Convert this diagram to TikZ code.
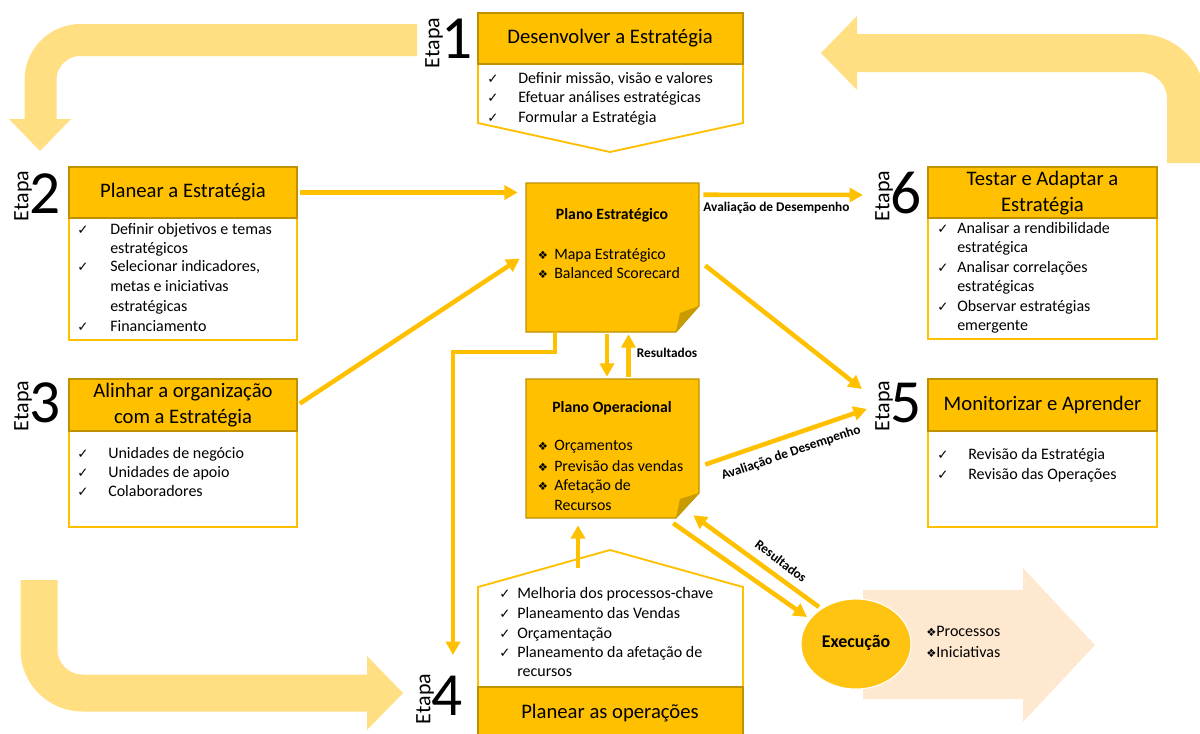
\documentclass[tikz,border=0pt]{standalone}
\usepackage{fontspec}
\setmainfont{Carlito}
\newfontfamily\symfont{DejaVu Sans}
\usetikzlibrary{arrows.meta,calc,fit,shapes.geometric}

\definecolor{gold}{HTML}{FFC000}
\definecolor{hdrline}{HTML}{BF9000}
\definecolor{band}{HTML}{FFDF82}
\definecolor{peach}{HTML}{FEE8CF}
\definecolor{foldc}{HTML}{C89B00}
\definecolor{execc}{HTML}{FFC312}

\newcommand\ckmark{✓}
\newcommand\dmnd{{\symfont\fontsize{8.5}{10}\selectfont ❖}}

\begin{document}
\begin{tikzpicture}[x=0.75pt,y=-0.75pt,
  hdr/.style={draw=hdrline, fill=gold, line width=0.9pt, inner sep=0},
  bodyline/.style={draw=gold, line width=1.4pt, fill=white},
  ttl/.style={font=\fontsize{15.5}{18}\selectfont, anchor=mid, inner sep=0},
  itm/.style={font=\fontsize{12}{14}\selectfont, anchor=mid west, inner sep=0},
  ckm/.style={font=\symfont\fontsize{10}{12}\selectfont, anchor=mid, inner sep=0},
  etp/.style={font=\fontsize{16.5}{18}\selectfont, rotate=90, inner sep=0},
  dig/.style={font=\fontsize{46}{48}\selectfont, inner sep=0},
  conn/.style={draw=gold, line width=3.4pt, -{Triangle[length=10pt,width=10.5pt]}},
  lbl/.style={font=\bfseries\fontsize{10}{11}\selectfont, inner sep=0},
  notebox/.style={fill=gold, draw=hdrline, line width=0.8pt},
  ntitle/.style={font=\bfseries\fontsize{11.8}{13}\selectfont, anchor=mid, inner sep=0},
  nitem/.style={font=\fontsize{11.9}{14}\selectfont, anchor=mid west, inner sep=0},
  dia/.style={anchor=mid, inner sep=0}
]
\useasboundingbox (0,0) rectangle (1200,733);
\clip (0,0) rectangle (1200,733);

% ---- wide cycle arrows in the background ----
\draw[band, line width=24pt, rounded corners=30pt] (417,40) -- (40.5,40) -- (40.5,120);
\fill[band] (9,119) -- (71,119) -- (40,151) -- cycle;

\draw[band, line width=28.5pt, rounded corners=34.5pt] (856,53) -- (1186,53) -- (1186,163);
\fill[band] (857,16) -- (857,90) -- (821,53) -- cycle;

\draw[band, line width=27.75pt, rounded corners=32.6pt] (39,580) -- (39,693) -- (368,693);
\fill[band] (367,656) -- (367,730) -- (403,693) -- cycle;

% ---- execution arrow ----
\fill[peach] (863,590) -- (1023,590) -- (1023,568) -- (1095,645) -- (1023,722) -- (1023,699) -- (863,699) -- cycle;

% ---- Stage 1 ----
\draw[bodyline] (478,64) -- (478,123) -- (610,152) -- (743,123) -- (743,64);
\node[hdr, fit={(478,13)(743,64)}] (h1) {};
\node[ttl] (t1) at (610,40.5) {Desenvolver a Estratégia};
\node[etp] (e1) at (434,43) {Etapa};
\node[dig] (d1) at (457,39) {1};
\foreach[count=\i] \yy/\tt in {80/{Definir missão, visão e valores},99/{Efetuar análises estratégicas},119/{Formular a Estratégia}}{
  \node[ckm] (c1\i) at (493,\yy) {\ckmark};
  \node[itm] (l1\i) at (518,\yy) {\tt};
}

% ---- Stage 2 ----
\node[bodyline, inner sep=0, fit={(69,218)(297,340)}] (b2) {};
\node[hdr, fit={(69,167)(297,218)}] (h2) {};
\node[ttl] (t2) at (183,194.5) {Planear a Estratégia};
\node[etp] (e2) at (23,196) {Etapa};
\node[dig] (d2) at (45,194) {2};
\foreach[count=\i] \yy in {231,268,328}{\node[ckm] (c2\i) at (83,\yy) {\ckmark};}
\foreach[count=\i] \yy/\tt in {231/{Definir objetivos e temas},250/{estratégicos},268/{Selecionar indicadores,},288/{metas e iniciativas},308/{estratégicas},328/{Financiamento}}{
  \node[itm] (l2\i) at (110,\yy) {\tt};
}

% ---- Stage 3 ----
\node[bodyline, inner sep=0, fit={(69,431)(297,527)}] (b3) {};
\node[hdr, fit={(69,379)(297,431)}] (h3) {};
\node[ttl] (t3a) at (183,394) {Alinhar a organização};
\node[ttl] (t3b) at (183,420) {com a Estratégia};
\node[etp] (e3) at (23,406) {Etapa};
\node[dig] (d3) at (45,403) {3};
\foreach[count=\i] \yy/\tt in {455/{Unidades de negócio},474/{Unidades de apoio},493/{Colaboradores}}{
  \node[ckm] (c3\i) at (83,\yy) {\ckmark};
  \node[itm] (l3\i) at (108,\yy) {\tt};
}

% ---- Stage 6 ----
\node[bodyline, inner sep=0, fit={(928,218)(1157,339)}] (b6) {};
\node[hdr, fit={(928,167)(1157,218)}] (h6) {};
\node[ttl] (t6a) at (1042.5,182) {Testar e Adaptar a};
\node[ttl] (t6b) at (1042.5,208) {Estratégia};
\node[etp] (e6) at (884,196) {Etapa};
\node[dig] (d6) at (906,193) {6};
\foreach[count=\i] \yy in {230,269,308}{\node[ckm] (c6\i) at (943,\yy) {\ckmark};}
\foreach[count=\i] \yy/\tt in {230/{Analisar a rendibilidade},249/{estratégica},269/{Analisar correlações},288/{estratégicas},308/{Observar estratégias},327/{emergente}}{
  \node[itm] (l6\i) at (957,\yy) {\tt};
}

% ---- Stage 5 ----
\node[bodyline, inner sep=0, fit={(928,431)(1157,527)}] (b5) {};
\node[hdr, fit={(928,379)(1157,431)}] (h5) {};
\node[ttl] (t5) at (1042.5,407) {Monitorizar e Aprender};
\node[etp] (e5) at (884,406) {Etapa};
\node[dig] (d5) at (906,403) {5};
\foreach[count=\i] \yy/\tt in {456/{Revisão da Estratégia},476/{Revisão das Operações}}{
  \node[ckm] (c5\i) at (943,\yy) {\ckmark};
  \node[itm] (l5\i) at (968,\yy) {\tt};
}

% ---- Stage 4 ----
\coordinate (apex4) at (610,550);
\draw[bodyline] (478,700) -- (478,587) -- (apex4) -- (743,587) -- (743,700);
\node[hdr, fit={(478,687)(743,745)}] (h4) {};
\node[ttl] (t4) at (610,715) {Planear as operações};
\node[etp] (e4) at (425,699) {Etapa};
\node[dig] (d4) at (447,696) {4};
\foreach[count=\i] \yy in {595,615,635,654}{\node[ckm] (c4\i) at (505,\yy) {\ckmark};}
\foreach[count=\i] \yy/\tt in {595/{Melhoria dos processos-chave},615/{Planeamento das Vendas},635/{Orçamentação},654/{Planeamento da afetação de},673/{recursos}}{
  \node[itm] (l4\i) at (517,\yy) {\tt};
}

% ---- Strategic plan note ----
\filldraw[notebox] (526,183) -- (699,183) -- (699,306) -- (676,332) -- (526,332) -- cycle;
\fill[foldc] (699,306) -- (676,332) -- (680,313) -- cycle;
\node[fit={(526,183)(699,332)}, inner sep=0] (pe) {};
\node[ntitle] (pet) at (612,216) {Plano Estratégico};
\foreach[count=\i] \yy/\tt in {256/{Mapa Estratégico},275/{Balanced Scorecard}}{
  \node[dia] (ped\i) at (543,\yy) {\dmnd};
  \node[nitem] (pel\i) at (554,\yy) {\tt};
}

% ---- Operational plan note ----
\filldraw[notebox] (526,379) -- (699,379) -- (699,493) -- (676,518) -- (526,518) -- cycle;
\fill[foldc] (699,493) -- (676,518) -- (680,499) -- cycle;
\node[fit={(526,379)(699,518)}, inner sep=0] (po) {};
\node[ntitle] (pot) at (612,409) {Plano Operacional};
\foreach[count=\i] \yy/\tt in {447/{Orçamentos},468/{Previsão das vendas},487/{Afetação de}}{
  \node[dia] (pod\i) at (543,\yy) {\dmnd};
  \node[nitem] (pol\i) at (554,\yy) {\tt};
}
\node[nitem] (pol4) at (554,507) {Recursos};

% ---- Execution ----
\node[ellipse, fill=execc, draw=white, line width=0.8pt, minimum width=82.5pt, minimum height=67.5pt, inner sep=0] (ex) at (856,644) {};
\node[font=\bfseries\fontsize{13.4}{15}\selectfont, anchor=mid, inner sep=0] (ext) at (856,644) {Execução};
\node[itm] (exa) at (926,633) {\dmnd Processos};
\node[itm] (exb) at (926,654) {\dmnd Iniciativas};

% ---- Connectors ----
\draw[conn, shorten <=2pt, shorten >=6pt] (h2.east) -- (h2.east -| pe.west);
\draw[conn, shorten <=2pt] (h3.east) -- ($(pe.west)+(-6,1)$);
\draw[conn] ($(pe.north east)+(4,12)$) -- ($(e6.north)+(-12,-1)$);
\node[lbl] (av1) at (776.5,208) {Avaliação de Desempenho};
\draw[conn] ($(pe.east)+(6,8)$) -- ($(e5.north)+(-13,-17)$);
\draw[conn] ($(po.east)+(6,16)$) -- ($(e5.north)+(-8,3)$);
\node[lbl, rotate=18.8] (av2) at (791,453) {Avaliação de Desempenho};
\draw[conn] ($(pe.south)+(-5.5,2)$) -- ($(po.north)+(-5.5,-2)$);
\draw[conn] ($(po.north)+(16,-2)$) -- ($(pe.south)+(16,2)$);
\node[lbl] (res1) at (667,353) {Resultados};
\coordinate (bend) at (453,352);
\draw[conn, rounded corners=0pt] ($(pe.south)+(-57.5,0)$) |- (bend) -- ($(bend)+(0,303)$);
\draw[conn] ($(apex4)+(-32,18)$) -- ($(po.south)+(-34.5,7)$);
\draw[conn] ($(po.south east)+(-26,5)$) -- ($(ex.center)+(-49,-27)$);
\draw[conn] ($(ex.center)+(-37,-37)$) -- ($(po.south east)+(-6,-3)$);
\node[lbl, rotate=-37] (res2) at (781,561) {Resultados};
\end{tikzpicture}
\end{document}
